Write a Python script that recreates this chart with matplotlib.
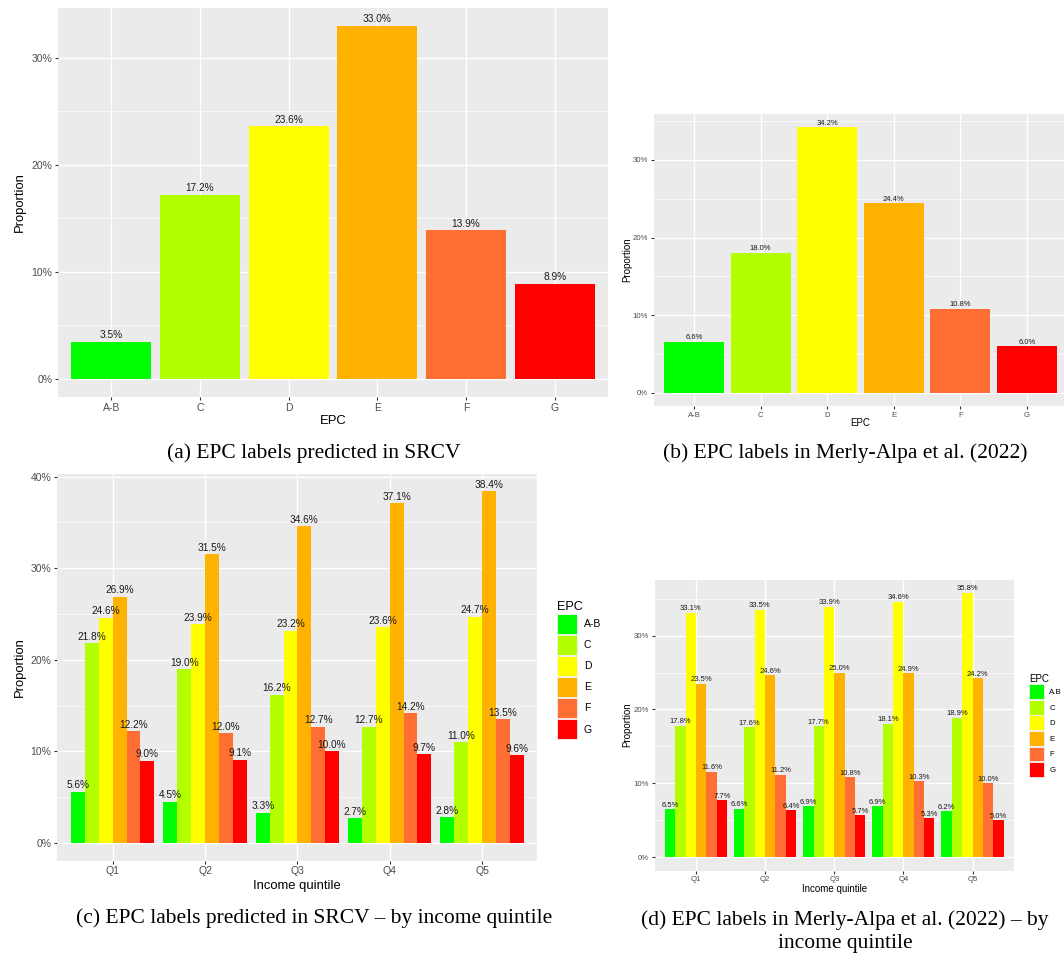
import matplotlib
matplotlib.use("Agg")
import matplotlib.pyplot as plt
import matplotlib.patches as mpatches
import numpy as np

plt.rcParams["font.family"] = ["Liberation Sans", "DejaVu Sans"]

# data (percent)
epc_classes = ["A-B", "C", "D", "E", "F", "G"]
epc_classes_d = ["A.B", "C", "D", "E", "F", "G"]
epc_colors = ["#00FF00", "#B3FF00", "#FFFF00", "#FFB200", "#FF6E33", "#FF0000"]

srcv_total = [3.5, 17.2, 23.6, 33.0, 13.9, 8.9]
merly_total = [6.6, 18.0, 34.2, 24.4, 10.8, 6.0]

quintiles = ["Q1", "Q2", "Q3", "Q4", "Q5"]
# rows = EPC class, columns = quintile
srcv_by_q = [
    [5.6, 4.5, 3.3, 2.7, 2.8],
    [21.8, 19.0, 16.2, 12.7, 11.0],
    [24.6, 23.9, 23.2, 23.6, 24.7],
    [26.9, 31.5, 34.6, 37.1, 38.4],
    [12.2, 12.0, 12.7, 14.2, 13.5],
    [9.0, 9.1, 10.0, 9.7, 9.6],
]
merly_by_q = [
    [6.5, 6.6, 6.9, 6.9, 6.2],
    [17.8, 17.6, 17.7, 18.1, 18.9],
    [33.1, 33.5, 33.9, 34.6, 35.8],
    [23.5, 24.6, 25.0, 24.9, 24.2],
    [11.6, 11.2, 10.8, 10.3, 10.0],
    [7.7, 6.4, 5.7, 5.3, 5.0],
]

captions = [
    "(a) EPC labels predicted in SRCV",
    "(b) EPC labels in Merly-Alpa et al. (2022)",
    "(c) EPC labels predicted in SRCV \u2013 by income quintile",
    "(d) EPC labels in Merly-Alpa et al. (2022) \u2013 by\nincome quintile",
]

W, H = 1064, 957
fig = plt.figure(figsize=(W / 100, H / 100), dpi=100)


def add_panel(box):
    l, t, r, b = box
    return fig.add_axes([l / W, 1 - b / H, (r - l) / W, (b - t) / H])


def px_to_axes(box, px, py):
    l, t, r, b = box
    return (px - l) / (r - l), (b - py) / (b - t)


def gg_style(ax, box, ymax, tick_fs, title_fs, xlabel, ylab_x, xlab_y):
    ax.set_facecolor("#EBEBEB")
    for s in ax.spines.values():
        s.set_visible(False)
    top = 1.05 * ymax
    ax.set_ylim(-0.05 * ymax, top)
    major = np.arange(0, top, 10)
    ax.set_yticks(major)
    ax.set_yticks(np.arange(5, top, 10), minor=True)
    ax.set_yticklabels(["%d%%" % v for v in major])
    ax.grid(True, which="major", color="white", lw=1.0)
    ax.grid(True, which="minor", axis="y", color="white", lw=0.5)
    ax.set_axisbelow(True)
    ax.tick_params(which="major", length=2.2, width=0.8, color="#333333",
                   labelsize=tick_fs, labelcolor="#4D4D4D", pad=2)
    ax.tick_params(which="minor", length=0)
    ax.set_xlabel(xlabel, fontsize=title_fs)
    ax.set_ylabel("Proportion", fontsize=title_fs)
    ax.xaxis.label.set_va("center")
    ax.yaxis.label.set_va("center")
    ax.yaxis.set_label_coords(*px_to_axes(box, ylab_x, (box[1] + box[3]) / 2))
    ax.xaxis.set_label_coords(*px_to_axes(box, (box[0] + box[2]) / 2, xlab_y))


def bar_labels(ax, xs, vals, fs, off):
    for x, v in zip(xs, vals):
        ax.annotate("%.1f%%" % v, (x, v), xytext=(0, off), textcoords="offset points",
                    ha="center", va="baseline", fontsize=fs, color="#1A1A1A")


def simple_panel(box, vals, tick_fs, title_fs, lab_fs, off, ylab_x, xlab_y):
    ax = add_panel(box)
    xs = np.arange(1, len(epc_classes) + 1)
    ax.bar(xs, vals, width=0.9, color=epc_colors, lw=0)
    ax.set_xlim(0.4, len(xs) + 0.6)
    ax.set_xticks(xs)
    ax.set_xticklabels(epc_classes)
    gg_style(ax, box, max(vals), tick_fs, title_fs, "EPC", ylab_x, xlab_y)
    bar_labels(ax, xs, vals, lab_fs, off)
    return ax


def quintile_panel(box, data, names, tick_fs, title_fs, lab_fs, off, ylab_x, xlab_y,
                   leg_xy, leg_fs, leg_title_fs, hl, hh):
    ax = add_panel(box)
    xq = np.arange(1, len(quintiles) + 1)
    w = 0.15
    for i, (row, c) in enumerate(zip(data, epc_colors)):
        xs = xq + (i - 2.5) * w
        ax.bar(xs, row, width=w, color=c, lw=0)
        bar_labels(ax, xs, row, lab_fs, off)
    ax.set_xlim(0.4, len(xq) + 0.6)
    ax.set_xticks(xq)
    ax.set_xticklabels(quintiles)
    gg_style(ax, box, max(max(r) for r in data), tick_fs, title_fs, "Income quintile",
             ylab_x, xlab_y)
    handles = [mpatches.Patch(facecolor=c, edgecolor="#F2F2F2", lw=0.6, label=n)
               for c, n in zip(epc_colors, names)]
    ax.legend(handles=handles, title="EPC", loc="upper left",
              bbox_to_anchor=(leg_xy[0] / W, 1 - leg_xy[1] / H),
              bbox_transform=fig.transFigure, frameon=False, fontsize=leg_fs,
              title_fontsize=leg_title_fs, handlelength=hl, handleheight=hh,
              labelspacing=0.1, handletextpad=0.65, borderpad=0, borderaxespad=0,
              alignment="left")
    return ax


box_a = (58, 7.9, 608, 396.7)
box_b = (654, 114.1, 1067, 406)
box_c = (57.3, 473.7, 537.4, 860.6)
box_d = (654.5, 579.5, 1014, 870.5)

simple_panel(box_a, srcv_total, 7.5, 9.4, 7.3, 2.6, 20, 421)
simple_panel(box_b, merly_total, 5.6, 7.0, 5.5, 1.9, 627, 423)
quintile_panel(box_c, srcv_by_q, epc_classes, 7.5, 9.4, 7.3, 2.4, 20, 886,
               (557, 601), 7.5, 9.1, 1.92, 2.58)
quintile_panel(box_d, merly_by_q, epc_classes_d, 5.6, 7.0, 5.5, 1.7, 627, 889,
               (1029, 673.5), 5.7, 7.0, 1.9, 2.5)

cap_pos = [(314, 453), (845, 453), (314, 918), (845, 931.5)]
for (cx, cy), txt in zip(cap_pos, captions):
    fig.text(cx / W, 1 - cy / H, txt, ha="center", va="center",
             family=["Liberation Serif", "DejaVu Serif"], fontsize=15.5, linespacing=1.25)

fig.savefig("out.png", dpi=100)
